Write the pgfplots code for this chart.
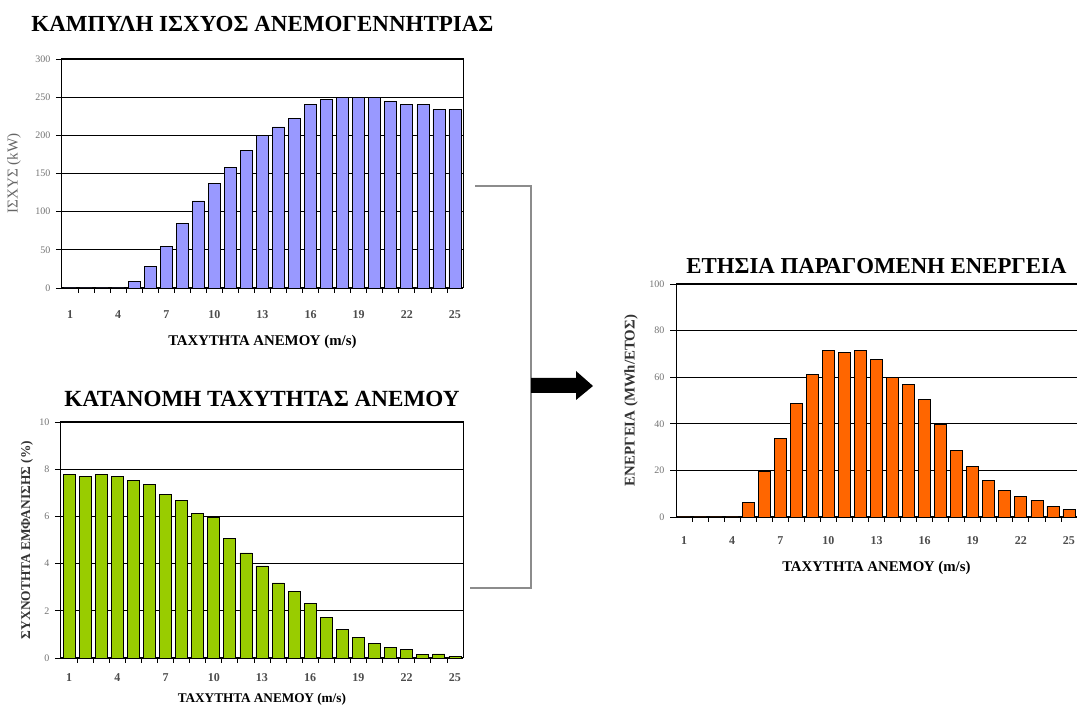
\documentclass[border=0pt]{standalone}
\usepackage{fontspec}
\setmainfont{Liberation Serif}
\usepackage{pgfplots}
\pgfplotsset{compat=1.18}
\usepackage{graphicx}

\definecolor{barblue}{HTML}{9999FF}
\definecolor{bargreen}{HTML}{99CC00}
\definecolor{barorange}{HTML}{FF6600}
\definecolor{conn}{HTML}{8C8C8C}

\pgfplotsset{
 windbar/.style={
  scale only axis,
  xmin=0.5, xmax=25.5, ymin=0,
  ybar, bar width=12pt,
  axis line style={black, line width=1pt},
  xtick={1,4,7,10,13,16,19,22,25},
  minor xtick={1.5,2.5,...,24.5},
  major x tick style={draw=none},
  minor x tick style={black, line width=0.8pt},
  y tick style={black, line width=0.8pt},
  tick pos=left,
  tick align=outside,
  major tick length=6pt,
  minor tick length=5pt,
  ymajorgrids, grid style={black, line width=0.9pt},
  /pgf/number format/assume math mode=true,
  yticklabel style={font=\fontsize{10}{10}\selectfont, text=black!55, anchor=east, xshift=-2pt},
  title style={anchor=base},
  xlabel style={anchor=base},
  ylabel style={anchor=center},
 },
 barsty/.style={draw=black, line width=0.8pt, fill=#1},
}

\begin{document}
\begin{tikzpicture}[x=1pt,y=1pt]
\useasboundingbox (0pt,0pt) rectangle (1077pt,706pt);

% ---- Power curve
\begin{axis}[windbar,
  at={(62pt,418pt)}, anchor=south west, width=401pt, height=229pt,
  ymax=300, ytick={0,50,...,300},
  xticklabel style={font=\fontsize{12}{12}\selectfont\bfseries, text=black!70, anchor=center, yshift=-21pt},
  title={\resizebox{462pt}{!}{\bfseries ΚΑΜΠΥΛΗ ΙΣΧΥΟΣ ΑΝΕΜΟΓΕΝΝΗΤΡΙΑΣ}},
  title style={at={(axis description cs:0.5,1.096)}},
  xlabel={\resizebox{188pt}{!}{\bfseries ΤΑΧΥΤΗΤΑ ΑΝΕΜΟΥ (m/s)}},
  xlabel style={at={(axis description cs:0.5,-0.249)}},
  ylabel={\resizebox{80pt}{!}{\color{black!60}ΙΣΧΥΣ (kW)}},
  ylabel style={at={(axis description cs:-0.12,0.5)}},
]
\addplot[barsty=barblue] coordinates {
(1,0) (2,0) (3,0) (4,0) (5,8) (6,28) (7,55) (8,84) (9,114) (10,137)
(11,158) (12,180) (13,200) (14,211) (15,222) (16,240) (17,247) (18,250)
(19,250) (20,250) (21,244) (22,240) (23,240) (24,234) (25,234)};
\end{axis}

% ---- Wind speed distribution
\begin{axis}[windbar,
  at={(61pt,48pt)}, anchor=south west, width=402pt, height=236pt,
  ymax=10, ytick={0,2,...,10},
  xticklabel style={font=\fontsize{12}{12}\selectfont\bfseries, text=black!70, anchor=center, yshift=-14pt},
  title={\resizebox{395pt}{!}{\bfseries ΚΑΤΑΝΟΜΗ ΤΑΧΥΤΗΤΑΣ ΑΝΕΜΟΥ}},
  title style={at={(axis description cs:0.5,1.042)}},
  xlabel={\resizebox{168pt}{!}{\bfseries ΤΑΧΥΤΗΤΑ ΑΝΕΜΟΥ (m/s)}},
  xlabel style={at={(axis description cs:0.5,-0.190)}},
  ylabel={\resizebox{198pt}{!}{\bfseries\color{black!80}ΣΥΧΝΟΤΗΤΑ ΕΜΦΑΝΙΣΗΣ (\%)}},
  ylabel style={at={(axis description cs:-0.0846,0.5)}},
]
\addplot[barsty=bargreen] coordinates {
(1,7.78) (2,7.68) (3,7.78) (4,7.68) (5,7.53) (6,7.36) (7,6.92) (8,6.68)
(9,6.12) (10,5.95) (11,5.08) (12,4.45) (13,3.90) (14,3.18) (15,2.82)
(16,2.33) (17,1.71) (18,1.21) (19,0.86) (20,0.61) (21,0.44) (22,0.37)
(23,0.15) (24,0.17) (25,0.08)};
\end{axis}

% ---- Annual energy
\begin{axis}[windbar,
  at={(676pt,189pt)}, anchor=south west, width=401pt, height=233pt,
  ymax=100, ytick={0,20,...,100},
  xticklabel style={font=\fontsize{12}{12}\selectfont\bfseries, text=black!70, anchor=center, yshift=-18pt},
  title={\resizebox{380pt}{!}{\bfseries ΕΤΗΣΙΑ ΠΑΡΑΓΟΜΕΝΗ ΕΝΕΡΓΕΙΑ}},
  title style={at={(axis description cs:0.5,1.021)}},
  xlabel={\resizebox{188pt}{!}{\bfseries ΤΑΧΥΤΗΤΑ ΑΝΕΜΟΥ (m/s)}},
  xlabel style={at={(axis description cs:0.5,-0.236)}},
  ylabel={\resizebox{171pt}{!}{\bfseries\color{black!80}ΕΝΕΡΓΕΙΑ (MWh/ΕΤΟΣ)}},
  ylabel style={at={(axis description cs:-0.112,0.5)}},
]
\addplot[barsty=barorange] coordinates {
(1,0) (2,0) (3,0) (4,0) (5,6.2) (6,19.7) (7,33.7) (8,48.9) (9,61.0)
(10,71.4) (11,70.5) (12,71.4) (13,67.7) (14,59.7) (15,56.7) (16,50.5)
(17,39.6) (18,28.7) (19,21.7) (20,15.8) (21,11.5) (22,8.9) (23,7.2)
(24,4.6) (25,3.2)};
\end{axis}

% ---- connector and arrow
\draw[conn, line width=2pt] (475pt,520pt) -- (531pt,520pt) -- (531pt,118pt) -- (470pt,118pt);
\fill[black] (531pt,313pt) -- (576pt,313pt) -- (576pt,306pt) -- (593pt,320pt) -- (576pt,335pt) -- (576pt,328pt) -- (531pt,328pt) -- cycle;
\end{tikzpicture}
\end{document}
